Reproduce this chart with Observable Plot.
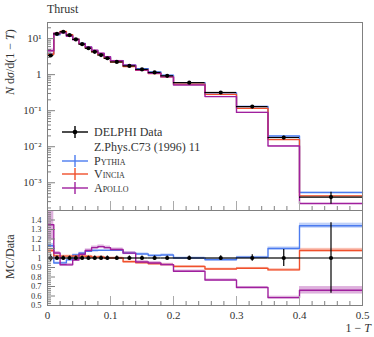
<!DOCTYPE html>
<html><head><meta charset="utf-8">
<script src="https://cdn.jsdelivr.net/npm/d3@7"></script>
<script src="https://cdn.jsdelivr.net/npm/@observablehq/plot@0.6"></script>
<style>
body{margin:0;background:#fff;font-family:"Liberation Serif",serif;color:#333}
#wrap{position:relative;width:374px;height:337px;overflow:hidden}
#wrap svg{position:absolute;left:0}
.abs{position:absolute;white-space:nowrap;font-size:12px;line-height:12px}
.sc{font-variant:small-caps}
</style></head><body><div id="wrap"></div>
<script>
// bin edges of 1-T
const binEdges = [0,0.01,0.02,0.03,0.04,0.05,0.06,0.07,0.08,0.09,0.1,0.12,0.14,0.16,0.18,0.2,0.25,0.3,0.35,0.4,0.5];
// DELPHI data and relative errors
const dataVals = [3.4,13.5,15.5,12.5,9.5,7.0,5.4,4.3,3.5,2.85,2.25,1.75,1.4,1.15,0.93,0.6,0.32,0.13,0.018,0.0004];
const dataErr  = [0.04,0.02,0.02,0.02,0.02,0.02,0.02,0.02,0.02,0.02,0.02,0.02,0.02,0.02,0.02,0.02,0.025,0.035,0.09,0.37];
// MC predictions
const pythiaVals = [3.84,12.8,14.7,12.25,9.8,7.35,5.78,4.64,3.78,3.08,2.43,1.84,1.46,1.18,0.96,0.6,0.314,0.131,0.0198,0.000536];
const pythiaErr  = [0.02,0.01,0.01,0.01,0.01,0.01,0.01,0.01,0.01,0.01,0.01,0.01,0.01,0.01,0.01,0.01,0.01,0.01,0.015,0.02];
const vinciaVals = [3.67,13.8,15.8,12.75,9.7,7.14,5.5,4.34,3.54,2.85,2.25,1.68,1.33,1.08,0.865,0.546,0.283,0.116,0.01575,0.000432];
const vinciaErr  = [0.02,0.01,0.01,0.01,0.01,0.01,0.01,0.01,0.01,0.01,0.01,0.01,0.01,0.01,0.01,0.01,0.01,0.01,0.015,0.02];
const apolloVals = [4.59,14.2,14.4,11.6,9.3,7.28,5.83,4.77,3.92,3.16,2.45,1.84,1.34,1.09,0.865,0.516,0.246,0.0897,0.0105,0.000264];
const apolloErr  = [0.12,0.015,0.015,0.015,0.015,0.015,0.015,0.015,0.015,0.015,0.015,0.015,0.015,0.015,0.015,0.015,0.015,0.015,0.025,0.06];
// ticks
const mainYTicks = [10,1,0.1,0.01,0.001];
const mainYTickLabels = ["10¹","1","10⁻¹","10⁻²","10⁻³"];
const ratioYTicks = [0.5,0.6,0.7,0.8,0.9,1,1.1,1.2,1.3,1.4];
const xTicks = [0,0.1,0.2,0.3,0.4,0.5];
const seriesNames = ["Pythia","Vincia","Apollo"];
const seriesColors = ["#4b7bef","#f0502c","#a0209e"];

const W = 374, ML = 47, MR = 12;
const mainTop = 22, mainH = 210;
const ratioH = 127, ratioMB = 32;
const frameCol = "#808080";
const mainFrameH = mainH - mainTop;
const ratioFrameH = ratioH - ratioMB;
const frameW = W - ML - MR;

const bins = dataVals.map((v,i)=>({lo:binEdges[i],hi:binEdges[i+1],mid:(binEdges[i]+binEdges[i+1])/2,v,e:dataErr[i]}));
const mcSets = [pythiaVals,vinciaVals,apolloVals].map((vals,k)=>{
  const errs=[pythiaErr,vinciaErr,apolloErr][k];
  return vals.map((v,i)=>({lo:binEdges[i],hi:binEdges[i+1],v,e:errs[i],r:v/dataVals[i]}));
});
function steps(rows,key){const p=[];rows.forEach(d=>{p.push({x:d.lo,y:d[key]});p.push({x:d.hi,y:d[key]});});return p;}

// minor tick positions
const xMinor = d3.range(0,0.5001,0.02).filter(t=>Math.abs(t*10-Math.round(t*10))>1e-6);
const xMajor = xTicks;
const logMinor = [];
for (let k=-4;k<=1;k++) for (let m=2;m<=9;m++){const t=m*Math.pow(10,k); if(t>1.7e-4&&t<28) logMinor.push(t);}
const ratioMinor = d3.range(0.5,1.5001,0.02).filter(t=>Math.abs(t*10-Math.round(t*10))>1e-6);

const font = {fontFamily:"Liberation Serif, serif",fontSize:"11px",color:"#333",background:"transparent"};

// ---- main panel
const mainMarks = [];
mcSets.forEach((rows,k)=>{
  mainMarks.push(Plot.rect(rows,{x1:"lo",x2:"hi",y1:d=>d.v*(1-d.e),y2:d=>d.v*(1+d.e),fill:seriesColors[k],fillOpacity:0.35}));
});
mcSets.forEach((rows,k)=>{
  mainMarks.push(Plot.line(steps(rows,"v"),{x:"x",y:"y",stroke:seriesColors[k],strokeWidth:1.4}));
});
mainMarks.push(
  Plot.ruleY(bins,{y:"v",x1:"lo",x2:"hi",stroke:"#000",strokeWidth:1.2}),
  Plot.ruleX(bins,{x:"mid",y1:d=>d.v*(1-d.e),y2:d=>d.v*(1+d.e),stroke:"#000",strokeWidth:1.2}),
  Plot.dot(bins,{x:"mid",y:"v",r:2.1,fill:"#000"}),
  Plot.tickX(xMinor,{x:d=>d,insetTop:mainFrameH-4,stroke:frameCol}),
  Plot.tickX(xMajor,{x:d=>d,insetTop:mainFrameH-9,stroke:"#aaa"}),
  Plot.tickY(logMinor,{y:d=>d,insetRight:frameW-4,stroke:frameCol}),
  Plot.tickY(mainYTicks,{y:d=>d,insetRight:frameW-8,stroke:frameCol}),
  Plot.axisY(mainYTicks,{tickSize:0,tickPadding:6,fontSize:11,tickFormat:d=>mainYTickLabels[mainYTicks.indexOf(d)],label:null,fill:"#333"}),
  Plot.frame({stroke:frameCol})
);
const mainPlot = Plot.plot({
  width:W,height:mainH,marginTop:mainTop,marginBottom:0,marginLeft:ML,marginRight:MR,
  style:font,
  x:{domain:[0,0.5],axis:null},
  y:{type:"log",domain:[1.7e-4,28]},
  marks:mainMarks
});

// ---- ratio panel
const ratioMarks = [];
mcSets.forEach((rows,k)=>{
  ratioMarks.push(Plot.rect(rows,{x1:"lo",x2:"hi",y1:d=>d.r*(1-d.e),y2:d=>d.r*(1+d.e),fill:seriesColors[k],fillOpacity:0.35,clip:true}));
});
mcSets.forEach((rows,k)=>{
  ratioMarks.push(Plot.line(steps(rows,"r"),{x:"x",y:"y",stroke:seriesColors[k],strokeWidth:1.4,clip:true}));
});
ratioMarks.push(
  Plot.ruleY(bins,{y:1,x1:"lo",x2:"hi",stroke:"#000",strokeWidth:1.2}),
  Plot.ruleX(bins,{x:"mid",y1:d=>1-d.e,y2:d=>1+d.e,stroke:"#000",strokeWidth:1.2,clip:true}),
  Plot.dot(bins,{x:"mid",y:1,r:2.1,fill:"#000"}),
  Plot.tickX(xMinor,{x:d=>d,insetTop:ratioFrameH-4,stroke:frameCol}),
  Plot.tickX(xMajor,{x:d=>d,insetTop:ratioFrameH-9,stroke:"#aaa"}),
  Plot.tickY(ratioMinor,{y:d=>d,insetRight:frameW-4,stroke:frameCol}),
  Plot.tickY(ratioYTicks,{y:d=>d,insetRight:frameW-8,stroke:frameCol}),
  Plot.axisY(ratioYTicks,{tickSize:0,tickPadding:6,fontSize:8.5,tickFormat:d=>String(d),label:null,fill:"#333"}),
  Plot.axisX(xTicks,{tickSize:0,tickPadding:6,tickFormat:d=>String(d),label:null,fill:"#333"}),
  Plot.frame({stroke:frameCol})
);
const ratioPlot = Plot.plot({
  width:W,height:ratioH,marginTop:0,marginBottom:ratioMB,marginLeft:ML,marginRight:MR,
  style:font,
  x:{domain:[0,0.5]},
  y:{domain:[0.5,1.5]},
  marks:ratioMarks
});

const wrap = document.getElementById("wrap");
mainPlot.style.top="0px";
ratioPlot.style.top=mainH+"px";
wrap.appendChild(mainPlot);
wrap.appendChild(ratioPlot);

function addText(html,css){const d=document.createElement("div");d.className="abs";d.innerHTML=html;Object.assign(d.style,css);wrap.appendChild(d);return d;}
addText("Thrust",{left:"47px",top:"3px"});
addText("<i>N</i> d<i>σ</i>/d(1 − <i>T</i>)",{left:"10px",top:"20px",transformOrigin:"0 0",transform:"translate(-6px,75px) rotate(-90deg)"});
const mc = addText("MC/Data",{left:"0px",top:"0px"});
mc.style.transformOrigin="50% 50%";
mc.style.left=(10-22)+"px"; mc.style.top=(257-6)+"px"; mc.style.width="44px"; mc.style.textAlign="center";
mc.style.transform="rotate(-90deg)";
addText("1 − <i>T</i>",{right:"3px",top:"322px"});

// legend
const legend = [
  {label:"DELPHI Data",color:"#000",dot:true,y:131.7},
  {label:"Z.Phys.C73 (1996) 11",color:null,y:146.7},
  {label:seriesNames[0],color:seriesColors[0],sc:true,y:160.7},
  {label:seriesNames[1],color:seriesColors[1],sc:true,y:174.3},
  {label:seriesNames[2],color:seriesColors[2],sc:true,y:188.3}
];
legend.forEach(L=>{
  if(L.color){
    const s=document.createElementNS("http://www.w3.org/2000/svg","svg");
    s.setAttribute("width","28");s.setAttribute("height","12");
    s.style.position="absolute";s.style.left="61px";s.style.top=(L.y-6)+"px";
    s.innerHTML=`<line x1="1" x2="27" y1="6" y2="6" stroke="${L.color}" stroke-width="1.4"/>`+
      `<line x1="14" x2="14" y1="0" y2="12" stroke="${L.color}" stroke-width="1.4"/>`+
      (L.dot?`<circle cx="14" cy="6" r="2.3" fill="#000"/>`:"");
    wrap.appendChild(s);
  }
  addText(L.label,{left:"94px",top:(L.y-6)+"px"}).classList.toggle("sc",!!L.sc);
});
</script></body></html>
